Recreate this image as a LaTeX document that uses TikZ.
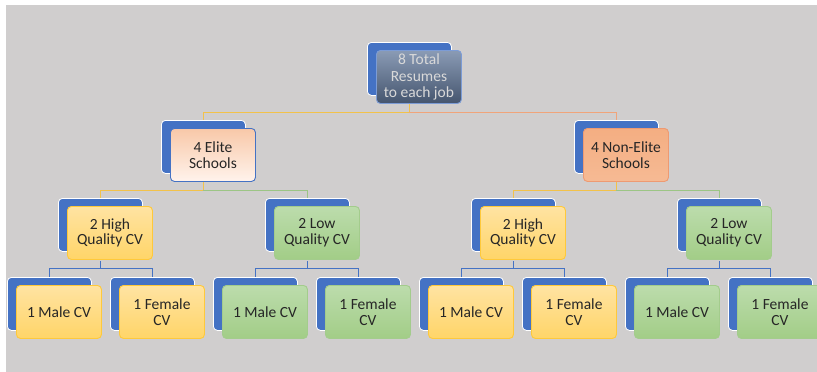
\documentclass[tikz,border=0pt]{standalone}
\usepackage{fontspec}
\setmainfont{Carlito}
\definecolor{bg}{HTML}{D0CECE}
\definecolor{backblue}{HTML}{4472C4}
\definecolor{yel}{HTML}{F2C24A}
\definecolor{ora}{HTML}{F0A47A}
\definecolor{grn}{HTML}{9CC585}
\definecolor{lnblue}{HTML}{4472C4}
\definecolor{txt}{HTML}{262626}
\definecolor{HTML8A9BB5}{HTML}{8A9BB5}
\definecolor{HTML45556E}{HTML}{45556E}
\definecolor{HTMLF8C8A8}{HTML}{F8C8A8}
\definecolor{HTMLFFF3EC}{HTML}{FFF3EC}
\definecolor{HTMLEE9A72}{HTML}{EE9A72}
\definecolor{HTMLF4AE82}{HTML}{F4AE82}
\definecolor{HTMLF6BA94}{HTML}{F6BA94}
\definecolor{HTMLFFC93A}{HTML}{FFC93A}
\definecolor{HTMLFFE3A2}{HTML}{FFE3A2}
\definecolor{HTMLFFD568}{HTML}{FFD568}
\definecolor{HTMLA3CC8C}{HTML}{A3CC8C}
\definecolor{HTMLBCDCAC}{HTML}{BCDCAC}
\definecolor{HTMLA2CD87}{HTML}{A2CD87}
\tikzset{
  backbox/.style={draw=white, line width=0.8pt, fill=backblue, rounded corners=4pt,
    minimum width=84pt, minimum height=53pt, anchor=north west, inner sep=0pt},
  frontbase/.style={line width=0.9pt, rounded corners=4pt, minimum width=85pt,
    minimum height=53pt, anchor=north west, inner sep=1pt, align=center,
    font=\fontsize{15.5}{15.5}\selectfont, text=txt},
  topfront/.style={frontbase, draw=backblue!70!white, top color=HTML8A9BB5, bottom color=HTML45556E,
    text=white!85!black, font=\fontsize{15.5}{16.5}\selectfont},
  elitefront/.style={frontbase, draw=backblue, top color=HTMLF8C8A8, bottom color=HTMLFFF3EC},
  nonfront/.style={frontbase, draw=HTMLEE9A72, top color=HTMLF4AE82, bottom color=HTMLF6BA94},
  hqfront/.style={frontbase, draw=HTMLFFC93A, top color=HTMLFFE3A2, bottom color=HTMLFFD568},
  lqfront/.style={frontbase, draw=HTMLA3CC8C, top color=HTMLBCDCAC, bottom color=HTMLA2CD87},
  conn/.style={line width=1pt},
}
\newcommand{\cvbox}[5]{%
  \node[backbox] (#1-b) at (#2,#3) {};
  \node[#4] (#1) at (#2+9,#3+8) {#5};
}
\begin{document}
\begin{tikzpicture}[x=1pt,y=-1pt]
\useasboundingbox (0,0) rectangle (817,372);
\clip (0,0) rectangle (817,372);
\fill[white] (0,0) rectangle (817,372);
\fill[bg] (6,5) rectangle (817,372);
\path
  (367+42,42) coordinate (top-c)
  (161+42,120) coordinate (elite-c)
  (574+42,120) coordinate (non-c)
  (58+42,198) coordinate (hqa-c)
  (265+42,198) coordinate (lqa-c)
  (471+42,198) coordinate (hqb-c)
  (677+42,198) coordinate (lqb-c);
\foreach \i/\x in {1/7,2/110,3/213,4/316,5/419,6/522,7/625,8/728}
  \path (\x+42,277) coordinate (leaf\i-c);
% connectors
\draw[conn, yel] (top-c |- 0,104) -- (top-c |- 0,112) -| (elite-c);
\draw[conn, ora] (top-c |- 0,112) -| (non-c);
\draw[conn, yel] (elite-c |- 0,182) -- (elite-c |- 0,190) -| (hqa-c);
\draw[conn, grn] (elite-c |- 0,190) -| (lqa-c);
\draw[conn, yel] (non-c |- 0,182) -- (non-c |- 0,190) -| (hqb-c);
\draw[conn, grn] (non-c |- 0,190) -| (lqb-c);
\draw[conn, lnblue] (hqa-c |- 0,261) -- (hqa-c |- 0,268) -| (leaf1-c);
\draw[conn, lnblue] (hqa-c |- 0,268) -| (leaf2-c);
\draw[conn, lnblue] (lqa-c |- 0,261) -- (lqa-c |- 0,268) -| (leaf3-c);
\draw[conn, lnblue] (lqa-c |- 0,268) -| (leaf4-c);
\draw[conn, lnblue] (hqb-c |- 0,261) -- (hqb-c |- 0,268) -| (leaf5-c);
\draw[conn, lnblue] (hqb-c |- 0,268) -| (leaf6-c);
\draw[conn, lnblue] (lqb-c |- 0,261) -- (lqb-c |- 0,268) -| (leaf7-c);
\draw[conn, lnblue] (lqb-c |- 0,268) -| (leaf8-c);
% boxes
\cvbox{top}{367}{42}{topfront}{8 Total\\Resumes\\to each job}
\cvbox{elite}{161}{120}{elitefront}{4 Elite\\Schools}
\cvbox{non}{574}{120}{nonfront}{4 Non-Elite\\Schools}
\cvbox{hqa}{58}{198}{hqfront}{2 High\\Quality CV}
\cvbox{lqa}{265}{198}{lqfront}{2 Low\\Quality CV}
\cvbox{hqb}{471}{198}{hqfront}{2 High\\Quality CV}
\cvbox{lqb}{677}{198}{lqfront}{2 Low\\Quality CV}
\cvbox{leaf1}{7}{277}{hqfront}{1 Male CV}
\cvbox{leaf2}{110}{277}{hqfront}{1 Female\\CV}
\cvbox{leaf3}{213}{277}{lqfront}{1 Male CV}
\cvbox{leaf4}{316}{277}{lqfront}{1 Female\\CV}
\cvbox{leaf5}{419}{277}{hqfront}{1 Male CV}
\cvbox{leaf6}{522}{277}{hqfront}{1 Female\\CV}
\cvbox{leaf7}{625}{277}{lqfront}{1 Male CV}
\cvbox{leaf8}{728}{277}{lqfront}{1 Female\\CV}
\end{tikzpicture}
\end{document}
